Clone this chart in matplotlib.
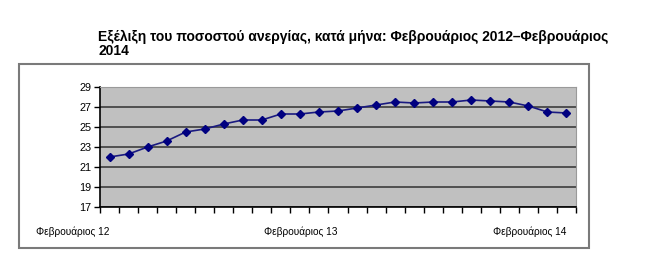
import matplotlib.pyplot as plt
import matplotlib.patches as patches
import numpy as np

plt.rcParams['font.family'] = ['Liberation Sans', 'DejaVu Sans']

# Unemployment rate per month, Feb 2012 - Feb 2014
rate = [22.0, 22.3, 23.0, 23.6, 24.5, 24.8, 25.3, 25.7, 25.7, 26.3, 26.3, 26.5,
        26.6, 26.9, 27.2, 27.5, 27.4, 27.5, 27.5, 27.7, 27.6, 27.5, 27.1, 26.5, 26.4]
label_pos = [0, 12, 24]
label_txt = ['Φεβρουάριος 12', 'Φεβρουάριος 13', 'Φεβρουάριος 14']
yticks = [17, 19, 21, 23, 25, 27, 29]
title = 'Εξέλιξη του ποσοστού ανεργίας, κατά μήνα: Φεβρουάριος 2012–Φεβρουάριος\n2014'

W, H = 660, 279
fig = plt.figure(figsize=(W / 100, H / 100), dpi=100)

# outer chart frame
fig.patches.append(patches.Rectangle((19 / W, 1 - 248 / H), 570 / W, 184 / H,
                                     transform=fig.transFigure, fill=False,
                                     edgecolor='#7a7a7a', lw=1.5))
fig.text(98 / W, 1 - 30 / H, title, fontsize=10, fontweight='bold',
         ha='left', va='top', linespacing=1.02)

ax = fig.add_axes([100 / W, 1 - 207 / H, 476 / W, 120 / H])
ax.set_facecolor('#c0c0c0')
x = np.arange(len(rate))
ax.plot(x, rate, color='#1a1a80', lw=1.2, marker='D', markersize=4.5,
        markerfacecolor='#000080', markeredgecolor='#000080')

ax.set_xlim(-0.5, len(rate) - 0.5)
ax.set_ylim(17, 29)
ax.set_yticks(yticks)
ax.yaxis.grid(True, color='#3c3c3c', lw=1.2)
ax.set_axisbelow(True)
ax.tick_params(axis='y', labelsize=7.8, length=4, width=1, pad=2, direction='out')

ax.set_xticks(label_pos)
ax.set_xticklabels(label_txt, ha='right', fontsize=7.3)
ax.set_xticks(np.arange(-0.5, len(rate)), minor=True)
ax.tick_params(axis='x', which='major', length=0, pad=14)
ax.tick_params(axis='x', which='minor', length=4, width=1, direction='out')

for s in ['top', 'right']:
    ax.spines[s].set_color('#9a9a9a')
for s in ['left', 'bottom']:
    ax.spines[s].set_color('black')
    ax.spines[s].set_linewidth(1.2)

fig.savefig('out.png', dpi=100)
